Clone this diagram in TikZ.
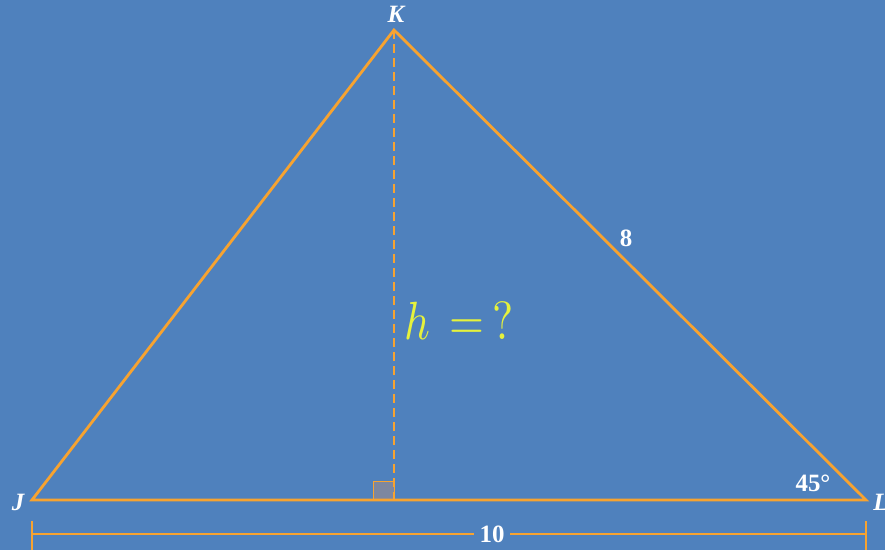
\documentclass[tikz,border=0pt]{standalone}
\usepackage{fontspec}
\usepackage{graphicx}
\newfontfamily\lblfont{Liberation Serif}
\definecolor{bg}{RGB}{79,129,189}
\definecolor{org}{RGB}{247,163,48}
\definecolor{ylw}{RGB}{230,242,60}
\definecolor{sqfill}{RGB}{125,135,160}
\newcommand{\hquestion}{\scalebox{4.5}[5.4]{$h\mskip3mu=\mskip3mu?$}}
\tikzset{
  side/.style={draw=org, line width=2.8bp, line join=miter},
  dimline/.style={draw=org, line width=1.6bp},
  lbl/.style={text=white, font=\lblfont\fontsize{25}{27}\selectfont\bfseries, inner sep=1bp},
}
\begin{document}
\begin{tikzpicture}[x=1bp,y=-1bp]
\fill[bg] (0,0) rectangle (885,550);
\useasboundingbox (0,0) rectangle (885,550);
\coordinate (J) at (32,500);
\coordinate (K) at (394,30);
\coordinate (L) at (866,500);
\coordinate (F) at (394,500);
\coordinate (DJ) at (32,534);
\coordinate (DL) at (866,534);
% right angle square
\draw[draw=org, line width=0.8bp, fill=sqfill] (373,481) rectangle (F);
% altitude
\draw[draw=org, line width=2.6bp, dash pattern=on 9bp off 5bp] (K) -- (F);
% triangle
\draw[side] (J) -- (K) -- (L) -- cycle;
% dimension line
\draw[dimline] (DJ) -- (DL);
\draw[dimline] (32,521) -- (32,550);
\draw[dimline] (866,521) -- (866,550);
\node[lbl, fill=bg, inner xsep=6bp] (ten) at (492,534) {10};
% labels
\node[lbl] (kl) at (396,14) {\itshape K};
\node[lbl] (jl) at (18,502) {\itshape J};
\node[lbl] (ll) at (881,502) {\itshape L};
\node[lbl] (eight) at (626,238) {8};
\node[lbl] (ang) at (813,483) {45°};
\node[text=ylw, inner sep=0pt, anchor=base west] (h) at (404,340) {\hquestion};
\end{tikzpicture}
\end{document}
